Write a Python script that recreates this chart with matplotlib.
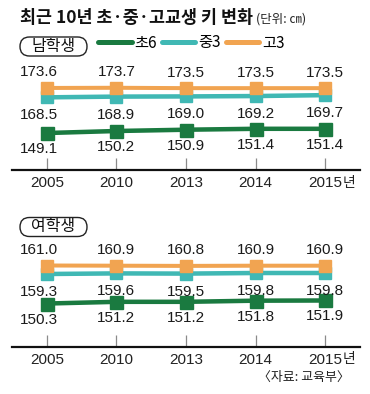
import numpy as np
import matplotlib
matplotlib.use('Agg')
import matplotlib.pyplot as plt
from matplotlib.lines import Line2D
from matplotlib.patches import FancyBboxPatch
from matplotlib.transforms import IdentityTransform

# ---------------- data ----------------
years = ['2005', '2010', '2013', '2014', '2015']
series_names = ['초6', '중3', '고3']
boys_elem = [149.1, 150.2, 150.9, 151.4, 151.4]
boys_mid = [168.5, 168.9, 169.0, 169.2, 169.7]
boys_high = [173.6, 173.7, 173.5, 173.5, 173.5]
girls_elem = [150.3, 151.2, 151.2, 151.8, 151.9]
girls_mid = [159.3, 159.6, 159.5, 159.8, 159.8]
girls_high = [161.0, 160.9, 160.8, 160.9, 160.9]
title = '최근 10년 초·중·고교생 키 변화'
unit = '(단위: ㎝)'
source = '〈자료: 교육부〉'
panel_labels = ['남학생', '여학생']
year_suffix = '년'

# ---------------- style ----------------
W, H, DPI = 370, 394, 100
PT = 72 / DPI  # points per pixel
KR = ['Noto Sans CJK KR', 'DejaVu Sans']
NUM = ['Liberation Sans Narrow', 'Liberation Sans', 'Noto Sans CJK KR']
C_ELEM, C_MID, C_HIGH = '#1a7a40', '#40b8b4', '#f1a451'
colors = [C_ELEM, C_MID, C_HIGH]

fig = plt.figure(figsize=(W / DPI, H / DPI), dpi=DPI)
fig.patch.set_facecolor('white')


def add_ax(top_px, bottom_px):
    return fig.add_axes([12 / W, 1 - bottom_px / H, 348 / W, (bottom_px - top_px) / H])


x = np.arange(len(years))

# broken scale for the girls panel (values compressed between groups)
gV = np.array([100.0, 152.0, 159.0, 160.0, 160.8, 162.0, 200.0])
gH = np.array([-52.1, 46.7, 72.4, 74.4, 81.1, 83.5, 155.7])


def g_fwd(v):
    return np.interp(v, gV, gH)


def g_inv(h):
    return np.interp(h, gH, gV)


panels = [
    (add_ax(60, 170), (boys_elem, boys_mid, boys_high), None, (129.0, 188.8)),
    (add_ax(237, 347), (girls_elem, girls_mid, girls_high), (g_fwd, g_inv), None),
]

for ax, (elem, mid, high), funcs, lim in panels:
    if funcs is not None:
        ax.set_yscale('function', functions=funcs)
        ax.set_ylim(g_inv(0), g_inv(110))
    else:
        ax.set_ylim(*lim)
    ax.set_xlim(-0.5, 4.5)
    ax.set_facecolor('none')
    for s in ['top', 'left', 'right']:
        ax.spines[s].set_visible(False)
    ax.spines['bottom'].set_linewidth(2.2 * PT)
    ax.spines['bottom'].set_color('#111111')
    ax.set_yticks([])
    ax.set_xticks(x, labels=years)
    ax.tick_params(axis='x', direction='in', length=12 * PT, width=0.9,
                   color='#8a8a8a', pad=4, labelsize=11, labelcolor='#222222')
    for lab in ax.get_xticklabels():
        lab.set_fontfamily(NUM)
    ax.annotate(year_suffix, xy=(x[-1], 0), xycoords=('data', 'axes fraction'),
                xytext=(17.5 * PT, -12.5 * PT), textcoords='offset points',
                ha='left', va='center', fontsize=10, family=KR, color='#222222')

    ax.plot(x, mid, color=C_MID, lw=4.5 * PT, marker='s', ms=12 * PT,
            solid_capstyle='butt', clip_on=False, zorder=2)
    ax.plot(x, high, color=C_HIGH, lw=4 * PT, marker='s', ms=12.5 * PT,
            solid_capstyle='butt', clip_on=False, zorder=3)
    ax.plot(x, elem, color=C_ELEM, lw=4.5 * PT, marker='s', ms=13 * PT,
            solid_capstyle='butt', clip_on=False, zorder=3)

    for vals, dy in ((high, 15.5), (mid, -18), (elem, -16)):
        for i, v in enumerate(vals):
            dx = -8 if i == 0 else 0
            ax.annotate(f'{v:.1f}', xy=(x[i], v), xytext=(dx * PT, dy * PT),
                        textcoords='offset points', ha='center', va='center',
                        fontsize=11, family=NUM, color='#1a1a1a')

# title + unit
t = fig.text(20 / W, 1 - 18 / H, title, fontsize=12.5, fontweight='bold',
             family=KR, ha='left', va='center', color='#111111')
panels[0][0].annotate(unit, xy=(1, 0.45), xycoords=t, xytext=(3 * PT, 0),
                      textcoords='offset points', ha='left', va='center',
                      fontsize=9, family=KR, color='#222222')

# panel labels in rounded boxes
for lab, yc in zip(panel_labels, (46.5, 227)):
    box = FancyBboxPatch((20, H - yc - 9.5), 67, 19,
                         boxstyle='round,pad=0,rounding_size=9.5',
                         transform=IdentityTransform(), facecolor='white',
                         edgecolor='#222222', lw=1.0, zorder=5)
    fig.patches.append(box)
    fig.text(53.5 / W, 1 - yc / H, lab, fontsize=11.5, family=KR, ha='center',
             va='center', color='#111111', zorder=6)

# legend
handles = [Line2D([], [], color=c, lw=5 * PT, solid_capstyle='round')
           for c in colors]
fig.legend(handles, series_names, loc='center left',
           bbox_to_anchor=(98 / W, 1 - 43 / H), ncol=3, frameon=False,
           prop={'family': KR, 'size': 11}, handlelength=2.2,
           handletextpad=0.2, columnspacing=0.3, borderaxespad=0,
           borderpad=0)

# source
fig.text(350 / W, 1 - 377 / H, source, fontsize=9.3, family=KR,
         ha='right', va='center', color='#222222')

fig.savefig('out.png', dpi=DPI, facecolor='white')
